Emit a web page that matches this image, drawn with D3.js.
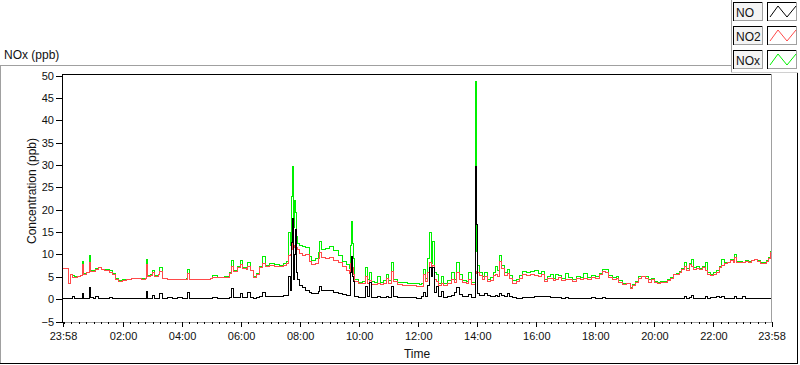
<!DOCTYPE html>
<html><head><meta charset="utf-8">
<script src="https://cdn.jsdelivr.net/npm/d3@7"></script>
<style>
body{margin:0;background:#fff;}
svg{display:block;font-family:"Liberation Sans",Arial,sans-serif;}
</style>
</head><body>
<svg id="c" width="800" height="365"></svg>
<script>
// minutes since 23:58 (start of record)
const minutes = [
0,8,12,16,20,24,30,35,39,42,
47,53,56,62,66,72,78,85,91,95,
100,106,112,120,130,140,150,160,167,169,
172,177,181,186,194,197,202,212,222,232,
242,250,254,258,270,285,300,303,315,328,
338,343,347,355,360,364,372,376,381,388,
394,400,406,412,420,430,440,448,455,459,
462,464,467,469,471,473,475,477,481,487,
492,500,506,514,520,522,526,534,542,550,
560,568,576,582,585,587,589,591,593,600,
608,614,618,622,626,634,640,646,652,657,
662,667,672,680,690,700,710,718,725,729,
733,737,741,745,748,751,755,759,764,769,
774,782,790,796,800,806,812,820,824,830,
836,839,841,843,847,852,857,862,868,874,
880,884,888,892,898,904,908,914,922,928,
934,942,950,958,966,972,978,984,990,996,
1002,1008,1014,1021,1028,1036,1044,1052,1058,1066,
1074,1082,1090,1096,1102,1108,1116,1124,1130,1138,
1146,1154,1158,1164,1170,1176,1184,1190,1196,1202,
1208,1214,1222,1228,1234,1240,1246,1252,1258,1263,
1268,1273,1277,1282,1288,1294,1300,1306,1310,1316,
1322,1328,1334,1338,1344,1350,1356,1362,1365,1369,
1376,1382,1388,1394,1400,1406,1412,1418,1424,1430,
1434,1437,1440];

const no2 = [
6.8,6.8,3.6,5.5,4.8,4.9,5.0,5.2,7.7,5.6,
5.9,8.1,6.2,6.2,6.6,7.0,6.6,6.4,6.5,6.0,
5.6,4.5,4.0,4.2,4.4,4.6,4.6,4.5,4.6,7.7,
5.0,5.3,6.0,5.0,5.4,6.2,4.6,4.3,4.3,4.4,
4.3,4.5,5.8,4.4,4.4,4.3,4.6,4.9,4.8,4.9,
5.8,7.3,6.2,7.0,7.7,6.8,6.6,7.2,6.3,4.9,
5.5,7.0,8.0,7.3,7.6,7.3,7.2,7.5,8.0,9.8,
10.0,11.0,12.5,11.5,12.0,11.8,11.5,11.0,10.2,9.8,
9.9,8.5,7.7,8.0,9.0,10.5,9.4,9.0,9.3,8.7,
8.1,7.3,6.5,5.8,8.0,9.0,7.0,5.5,4.0,3.4,
3.5,5.0,3.6,4.2,3.3,3.3,3.6,3.2,3.6,4.6,
3.6,6.2,3.9,3.2,3.1,3.0,3.0,2.8,2.9,2.9,
5.5,4.0,6.0,8.1,5.5,7.5,4.5,4.0,3.0,3.6,
3.1,3.4,4.5,3.8,6.0,4.4,3.7,3.4,4.4,3.3,
3.3,5.8,6.2,6.0,5.2,4.3,5.0,3.9,4.2,5.2,
5.5,5.0,8.5,6.8,5.2,5.8,4.6,3.6,4.0,4.6,
5.5,5.2,5.6,5.3,5.0,5.6,4.0,4.6,4.6,4.2,
4.5,4.8,4.2,4.5,4.3,4.0,4.6,4.3,4.6,4.5,
4.8,4.6,5.4,6.1,6.0,4.8,4.5,4.7,3.8,3.3,
3.4,2.3,3.0,3.7,4.6,5.0,4.6,3.8,4.4,3.7,
3.6,3.7,3.8,4.2,4.6,5.5,5.6,6.0,6.6,7.2,
6.5,7.7,7.3,6.6,6.9,6.6,7.1,6.5,5.6,5.2,
5.5,6.0,7.0,7.5,7.9,8.1,8.6,8.2,9.3,8.1,
8.3,8.2,8.5,8.3,8.6,8.8,8.4,8.0,7.9,8.4,
9.0,10.4,9.6];

const nox = [
6.8,6.8,3.5,5.6,5.2,5.0,5.1,5.3,8.4,5.7,
6.0,9.7,6.4,6.3,6.8,7.1,6.7,6.6,6.6,6.3,
5.7,4.6,4.2,4.3,4.5,4.7,4.7,4.6,4.7,8.8,
5.2,5.5,6.5,5.2,5.5,7.0,4.7,4.4,4.4,4.5,
4.4,4.6,6.6,4.5,4.5,4.4,4.7,5.3,4.9,5.0,
6.0,8.6,6.5,7.3,8.7,7.1,7.0,8.1,6.5,5.1,
5.7,7.3,9.6,7.6,7.9,7.7,7.5,7.9,8.5,14.8,
12.0,22.9,29.6,16.0,22.0,19.3,14.0,12.5,12.0,11.8,
11.6,9.5,8.6,9.0,10.5,12.9,11.0,11.3,11.8,10.8,
9.8,8.4,7.7,6.8,12.0,17.3,12.5,9.0,4.5,3.8,
4.0,7.0,4.3,6.0,4.0,3.8,5.0,3.8,4.2,5.4,
4.1,8.1,4.4,3.8,3.7,3.6,3.5,3.4,3.2,3.4,
6.6,4.6,9.0,14.8,8.0,12.9,6.0,5.5,3.6,5.1,
3.6,4.2,5.9,4.4,8.2,5.5,4.2,4.0,5.9,3.8,
3.8,48.7,10.6,7.5,6.0,5.0,6.0,4.5,4.8,6.0,
7.3,6.4,9.7,7.6,6.0,6.6,5.2,4.1,4.5,5.2,
6.2,6.0,6.2,6.4,5.8,6.2,4.5,5.1,5.4,4.6,
5.4,5.2,4.6,5.8,4.8,4.5,5.0,4.8,5.8,4.9,
5.2,5.0,5.8,6.6,6.6,5.2,4.9,5.0,4.1,3.6,
3.6,2.6,3.2,4.0,5.0,5.1,5.0,4.3,4.6,4.0,
3.8,3.9,4.0,4.3,4.8,5.6,5.8,6.2,6.8,8.1,
6.8,8.0,8.8,7.0,7.2,6.9,7.4,8.1,6.0,5.6,
6.0,6.4,7.4,8.8,8.1,8.3,8.8,8.5,9.9,8.4,
8.5,8.3,8.6,8.4,8.7,8.9,8.6,8.2,8.1,8.6,
9.2,10.6,9.8];

const no = [
0.1,0.1,0.1,0.2,0.6,0.1,0.1,0.1,1.2,0.1,
0.1,2.5,0.3,0.1,0.5,0.1,0.1,0.1,0.1,0.4,
0.1,0.1,0.1,0.1,0.1,0.1,0.1,0.1,0.1,1.8,
0.1,0.1,0.8,0.1,0.1,1.2,0.1,0.3,0.1,0.4,
0.1,0.1,1.4,0.1,0.1,0.1,0.1,0.4,0.1,0.2,
0.3,2.3,0.3,0.4,1.2,0.3,0.4,1.5,0.3,0.2,
0.3,0.6,1.5,0.6,0.7,0.6,0.7,0.8,0.9,5.0,
2.0,12.6,18.1,4.5,10.0,15.5,6.0,4.5,3.0,2.5,
2.0,1.5,1.2,1.3,1.8,2.8,2.0,1.9,2.0,1.5,
1.2,1.0,0.9,0.8,6.0,9.5,5.0,4.0,0.5,0.3,
0.3,2.8,0.5,3.7,0.4,0.3,0.5,0.3,0.4,0.6,
0.4,2.8,0.5,0.3,0.3,0.3,0.3,0.2,0.2,0.6,
1.5,0.5,3.0,7.0,5.1,7.0,1.5,2.8,0.5,1.8,
0.4,0.5,0.9,1.5,2.5,1.0,0.6,0.5,1.0,0.4,
0.3,29.6,16.6,1.2,0.9,0.8,1.2,0.8,0.6,0.7,
0.8,0.6,1.2,0.9,0.7,1.2,0.6,0.3,0.2,0.2,
0.3,0.3,0.4,0.5,0.6,0.5,0.7,0.5,0.4,0.3,
0.3,0.3,0.2,0.3,0.2,0.2,0.2,0.2,0.2,0.2,
0.3,0.2,0.2,0.3,0.2,0.1,0.2,0.2,0.1,0.1,
0.1,0.1,0.1,0.1,0.1,0.1,0.1,0.1,0.1,0.1,
0.1,0.1,0.1,0.1,0.1,0.1,0.1,0.1,0.1,0.6,
0.2,0.3,0.8,0.1,0.1,0.1,0.2,0.5,0.2,0.4,
0.3,0.5,0.3,0.6,0.2,0.1,0.1,0.1,0.5,0.2,
0.1,0.6,0.1,0.1,0.1,0.1,0.1,0.1,0.1,0.1,
0.1,0.1,0.1];

const seriesNames = ["NO", "NO2", "NOx"];
const seriesColors = ["#000000", "#ff4a4a", "#00f000"];
const yTicks = [-5, 0, 5, 10, 15, 20, 25, 30, 35, 40, 45, 50];
const xTickLabels = ["23:58","02:00","04:00","06:00","08:00","10:00","12:00","14:00","16:00","18:00","20:00","22:00","23:58"];
const titleText = "NOx (ppb)";
const yTitle = "Concentration (ppb)";
const xTitle = "Time";

const svg = d3.select("#c");
const L = 62, R = 772, T = 74, B = 322;
const start = new Date(2000, 0, 1, 23, 58);
const end = new Date(2000, 0, 2, 23, 58);
const x = d3.scaleTime().domain([start, end]).range([63, 771.5]);
const y = d3.scaleLinear().domain([-5, 50]).range([321.5, 75.5]);
const toDate = m => new Date(start.getTime() + m * 60000);

// outer panel frame
const frame = svg.append("g").attr("shape-rendering", "crispEdges");
frame.append("line").attr("x1", 0).attr("x2", 731).attr("y1", 65.5).attr("y2", 65.5).attr("stroke", "#a0a0a0");
frame.append("line").attr("x1", 0.5).attr("x2", 0.5).attr("y1", 65).attr("y2", 364).attr("stroke", "#a0a0a0");
frame.append("line").attr("x1", 0).attr("x2", 798).attr("y1", 363.5).attr("y2", 363.5).attr("stroke", "#000");
frame.append("line").attr("x1", 797.5).attr("x2", 797.5).attr("y1", 72).attr("y2", 364).attr("stroke", "#000");
frame.append("line").attr("x1", 731.5).attr("x2", 731.5).attr("y1", 0).attr("y2", 72).attr("stroke", "#a0a0a0");
frame.append("line").attr("x1", 731).attr("x2", 798).attr("y1", 72.5).attr("y2", 72.5).attr("stroke", "#d0d0d0");

svg.append("text").attr("x", 4).attr("y", 59).attr("font-size", 12).attr("fill", "#111").text(titleText);

// plot area
const clipId = "plotclip";
svg.append("clipPath").attr("id", clipId).append("rect")
  .attr("x", L + 1).attr("y", T + 1).attr("width", R - L - 1.5).attr("height", B - T - 1);

const plot = svg.append("g").attr("clip-path", `url(#${clipId})`);
const seriesData = [no, no2, nox];
const line = d3.line().curve(d3.curveStepAfter).x(d => x(d.t)).y(d => y(d.v));
[2, 1, 0].forEach(k => {
  const pts = minutes.map((m, i) => ({t: toDate(m), v: seriesData[k][i]})).filter(d => d.v != null);
  plot.append("path").datum(pts).attr("d", line)
    .attr("fill", "none").attr("stroke", seriesColors[k]).attr("stroke-width", 1)
    .attr("shape-rendering", "crispEdges");
});

// plot frame (sunken)
const pf = svg.append("g").attr("shape-rendering", "crispEdges");
pf.append("line").attr("x1", L).attr("x2", R).attr("y1", T + 0.5).attr("y2", T + 0.5).attr("stroke", "#000");
pf.append("line").attr("x1", L + 0.5).attr("x2", L + 0.5).attr("y1", T).attr("y2", B + 1).attr("stroke", "#000");
pf.append("line").attr("x1", R - 0.5).attr("x2", R - 0.5).attr("y1", T).attr("y2", B + 1).attr("stroke", "#a0a0a0");
pf.append("line").attr("x1", L + 1).attr("x2", R).attr("y1", B + 0.5).attr("y2", B + 0.5).attr("stroke", "#a0a0a0");

// y axis
const yAxis = svg.append("g").attr("transform", `translate(${L},0)`)
  .call(d3.axisLeft(y).tickValues(yTicks).tickSize(6).tickPadding(2).tickFormat(d3.format("d")));
yAxis.select(".domain").remove();
yAxis.selectAll("line").attr("stroke", "#000").attr("shape-rendering", "crispEdges");
yAxis.selectAll("text").attr("font-size", 11).attr("font-family", "Liberation Sans, Arial, sans-serif").attr("fill", "#111");

// x axis: major ticks
const majorDates = xTickLabels.map((s, i) => {
  if (i === 0) return start;
  if (i === xTickLabels.length - 1) return end;
  const [h, m] = s.split(":").map(Number);
  return new Date(2000, 0, 2, h, m);
});
const xAxis = svg.append("g").attr("transform", `translate(0,${B})`)
  .call(d3.axisBottom(x).tickValues(majorDates).tickSize(5).tickPadding(5)
    .tickFormat((d, i) => xTickLabels[i]));
xAxis.select(".domain").remove();
xAxis.selectAll("line").attr("stroke", "#000").attr("shape-rendering", "crispEdges");
xAxis.selectAll("text").attr("font-size", 11).attr("font-family", "Liberation Sans, Arial, sans-serif").attr("fill", "#111");
// minor ticks every 15 minutes
const minorDates = d3.timeMinute.every(15).range(new Date(2000, 0, 2, 0, 0), end);
const xMinor = svg.append("g").attr("transform", `translate(0,${B})`)
  .call(d3.axisBottom(x).tickValues(minorDates).tickSize(2).tickFormat(""));
xMinor.select(".domain").remove();
xMinor.selectAll("line").attr("stroke", "#000").attr("shape-rendering", "crispEdges");

// axis titles
svg.append("text").attr("transform", "translate(36,191) rotate(-90)").attr("text-anchor", "middle")
  .attr("font-size", 12).attr("fill", "#111").text(yTitle);
svg.append("text").attr("x", (L + R) / 2).attr("y", 357.5).attr("text-anchor", "middle")
  .attr("font-size", 12).attr("fill", "#111").text(xTitle);

// legend
const lg = svg.append("g").attr("shape-rendering", "crispEdges");
const rowY = [2, 26, 50];
seriesNames.forEach((name, i) => {
  const g = lg.append("g").attr("transform", `translate(0,${rowY[i]})`);
  // label box
  g.append("rect").attr("x", 733).attr("y", 0).attr("width", 30).attr("height", 19).attr("fill", "#f4f4f4");
  g.append("path").attr("d", "M733.5,19V0.5H763").attr("fill", "none").attr("stroke", "#000");
  g.append("path").attr("d", "M734,18.5H762.5V0").attr("fill", "none").attr("stroke", "#a0a0a0");
  g.append("text").attr("x", 736).attr("y", 14.5).attr("font-size", 12).attr("fill", "#111")
    .attr("shape-rendering", null).text(name);
  // line sample box
  g.append("rect").attr("x", 767).attr("y", 0).attr("width", 30).attr("height", 19).attr("fill", "#fff");
  g.append("path").attr("d", "M767.5,19V0.5H797").attr("fill", "none").attr("stroke", "#000");
  g.append("path").attr("d", "M768,18.5H796.5V0").attr("fill", "none").attr("stroke", "#a0a0a0");
  g.append("path").attr("d", "M770,15L778,4L787,15L796,4").attr("fill", "none")
    .attr("stroke", seriesColors[i]).attr("stroke-width", 1).attr("shape-rendering", "auto");
});
</script>
</body></html>
